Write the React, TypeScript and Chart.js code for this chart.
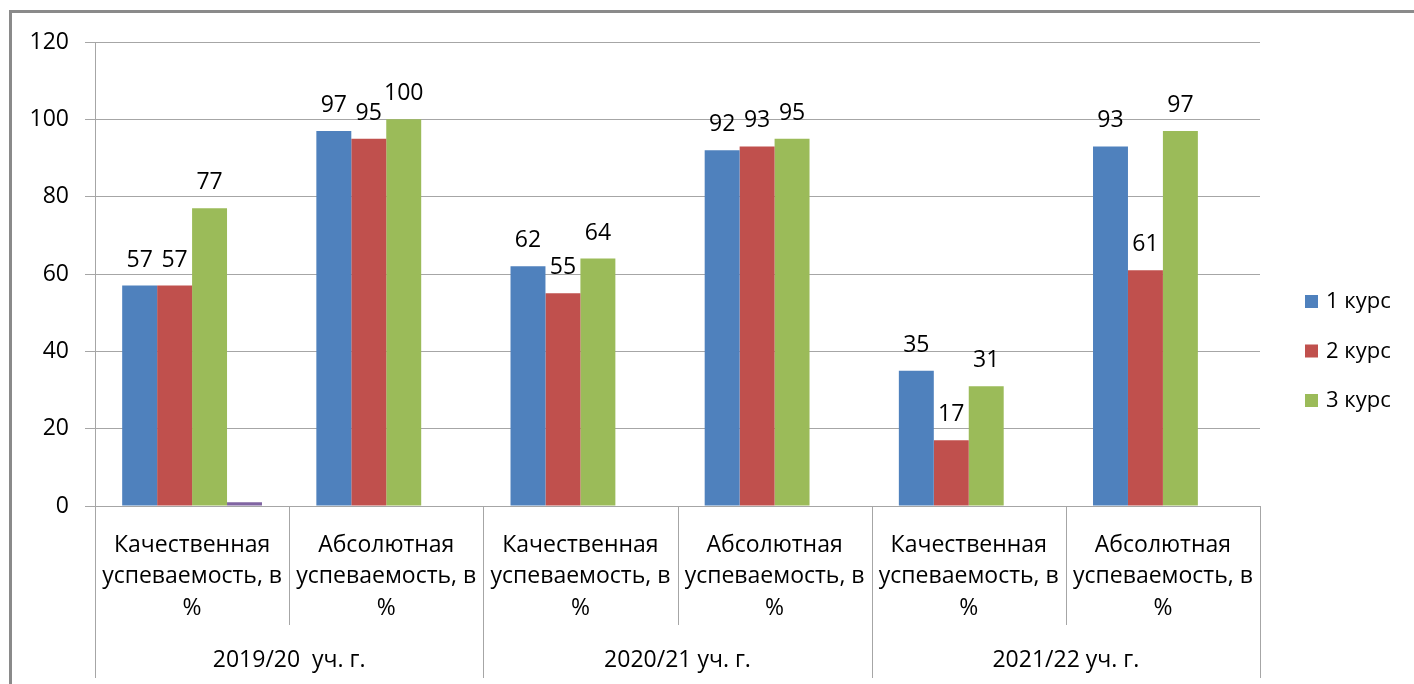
import React, { useEffect, useRef } from "react";
import { Chart, registerables } from "chart.js";

Chart.register(...registerables);

const categories = [
  ["Качественная", "успеваемость, в", "%"],
  ["Абсолютная", "успеваемость, в", "%"],
  ["Качественная", "успеваемость, в", "%"],
  ["Абсолютная", "успеваемость, в", "%"],
  ["Качественная", "успеваемость, в", "%"],
  ["Абсолютная", "успеваемость, в", "%"],
];
const years = ["2019/20  уч. г.", "2020/21 уч. г.", "2021/22 уч. г."];
const seriesNames = ["1 курс", "2 курс", "3 курс", ""];
const course1 = [57, 97, 62, 92, 35, 93];
const course2 = [57, 95, 55, 93, 17, 61];
const course3 = [77, 100, 64, 95, 31, 97];
const course4 = [1, 0, 0, 0, 0, 0];
const colors = ["#4F81BD", "#C0504D", "#9BBB59", "#8064A2"];

const FONT = '"Open Sans", "Noto Sans", sans-serif';
const GRID = "#a6a6a6";

export default function App() {
  const ref = useRef<HTMLCanvasElement | null>(null);
  useEffect(() => {
    document.body.style.margin = "0";
    document.body.style.overflow = "hidden";
    const canvas = ref.current!;
    const deco = {
      id: "deco",
      beforeDraw(chart: any) {
        const ctx = chart.ctx;
        ctx.save();
        ctx.fillStyle = "#fff";
        ctx.fillRect(0, 0, chart.width, chart.height);
        ctx.strokeStyle = "#8a8a8a";
        ctx.lineWidth = 3;
        ctx.strokeRect(10.5, 11.5, 1500, 800);
        ctx.restore();
      },
      afterDraw(chart: any) {
        const ctx = chart.ctx;
        const ca = chart.chartArea;
        const n = categories.length;
        const cw = (ca.right - ca.left) / n;
        ctx.save();
        // separators
        ctx.strokeStyle = GRID;
        ctx.lineWidth = 1;
        for (let i = 0; i <= n; i++) {
          const x = Math.round(ca.left + i * cw) + 0.5;
          const yEnd = i % 2 === 0 ? 678 : 625;
          ctx.beginPath();
          ctx.moveTo(x, ca.bottom);
          ctx.lineTo(x, yEnd);
          ctx.stroke();
        }
        // category labels
        ctx.fillStyle = "#000";
        ctx.font = `23px ${FONT}`;
        ctx.textAlign = "center";
        ctx.textBaseline = "middle";
        categories.forEach((lines, i) => {
          const cx = ca.left + (i + 0.5) * cw;
          lines.forEach((t, j) => ctx.fillText(t, cx, 545 + j * 31.5));
        });
        years.forEach((t, i) => {
          const cx = ca.left + (i * 2 + 1) * cw;
          ctx.fillText(t, cx, 660);
        });
        // data labels
        ctx.textBaseline = "alphabetic";
        for (let d = 0; d < 3; d++) {
          const meta = chart.getDatasetMeta(d);
          meta.data.forEach((el: any, i: number) => {
            const v = chart.data.datasets[d].data[i];
            ctx.fillText(String(v), el.x, el.y - 19);
          });
        }
        // legend
        ctx.font = `22px ${FONT}`;
        ctx.textAlign = "left";
        ctx.textBaseline = "middle";
        for (let d = 0; d < 3; d++) {
          const y = 302 + d * 49.5;
          ctx.fillStyle = colors[d];
          ctx.fillRect(1305, y - 7, 13, 13);
          ctx.fillStyle = "#000";
          ctx.fillText(seriesNames[d], 1326, y);
        }
        ctx.restore();
      },
    };
    const chart = new Chart(canvas, {
      type: "bar",
      data: {
        labels: categories.map((c) => c.join(" ")),
        datasets: [course1, course2, course3, course4].map((data, i) => ({
          label: seriesNames[i],
          data,
          backgroundColor: colors[i],
          borderWidth: 0,
          barPercentage: 1,
          categoryPercentage: 0.72,
        })),
      },
      options: {
        responsive: false,
        animation: false,
        devicePixelRatio: 1,
        layout: { padding: { left: 0, right: 154, top: 42, bottom: 178 } },
        plugins: { legend: { display: false }, tooltip: { enabled: false } },
        scales: {
          x: {
            display: false,
          },
          y: {
            min: 0,
            max: 120,
            afterFit: (s: any) => {
              s.width = 95;
            },
            ticks: {
              stepSize: 20,
              padding: 16,
              color: "#000",
              font: { family: FONT, size: 23 },
            },
            grid: { color: GRID, lineWidth: 1, tickLength: 10 },
            border: { color: GRID, width: 1 },
          },
        },
      },
      plugins: [deco],
    });
    return () => chart.destroy();
  }, []);
  return <canvas ref={ref} width={1414} height={684} style={{ display: "block" }} />;
}
